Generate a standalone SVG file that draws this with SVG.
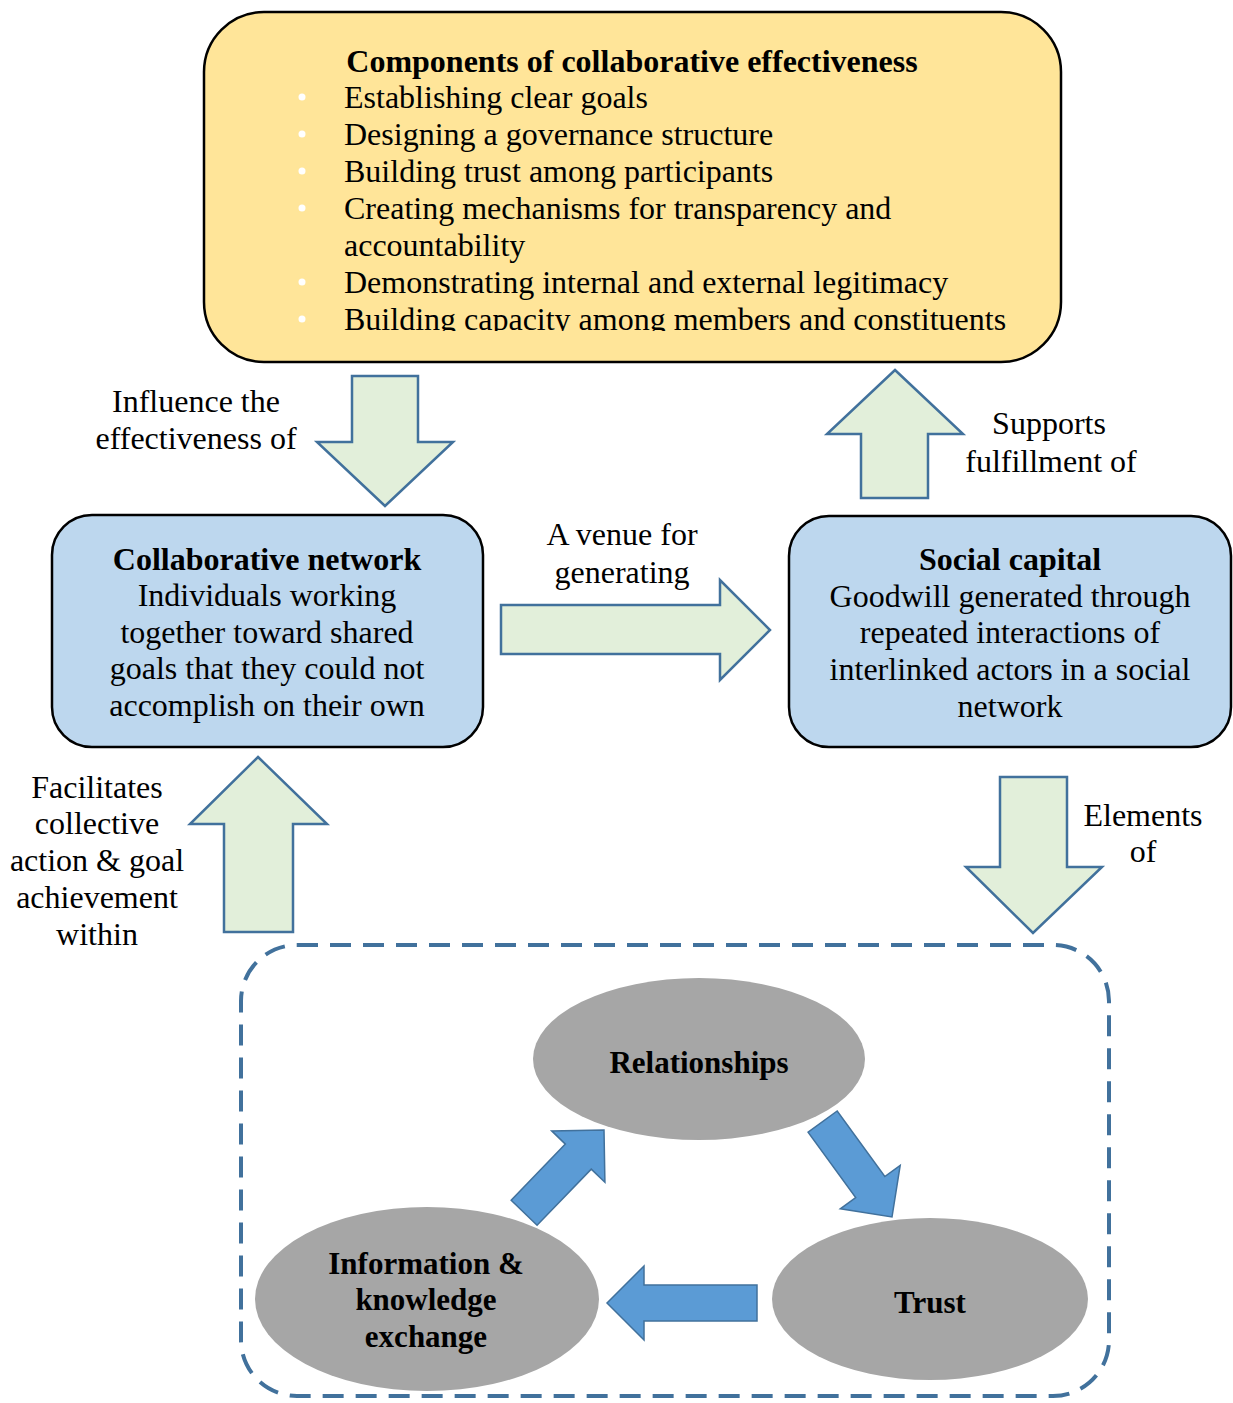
<svg xmlns="http://www.w3.org/2000/svg" width="1233" height="1403" viewBox="0 0 1233 1403">
  <style>
    .t { font-family: "Liberation Serif", "Times New Roman", serif; font-size: 32px; fill: #000; }
    .c { text-anchor: middle; }
    .b { font-weight: bold; }
    .lbl { font-size: 31px; }
    .box { stroke: #000; stroke-width: 2.5; }
    .block { fill: #E2EFDA; stroke: #41719C; stroke-width: 2.5; stroke-linejoin: miter; }
    .cyc { fill: #5B9BD5; stroke: #41719C; stroke-width: 1.5; }
    .ell { fill: #A6A6A6; }
  </style>
  <defs>
    <clipPath id="topClip">
      <rect x="200" y="10" width="870" height="321"/>
    </clipPath>
  </defs>

  <rect width="1233" height="1403" fill="#fff"/>

  <!-- Components box -->
  <g id="components">
    <rect class="box" x="204" y="12" width="857" height="350" rx="60" fill="#FFE599"/>
    <text class="t b c" x="632" y="72">Components of collaborative effectiveness</text>
    <g fill="#fff">
      <circle cx="302" cy="97" r="3.5"/>
      <circle cx="302" cy="134" r="3.5"/>
      <circle cx="302" cy="171" r="3.5"/>
      <circle cx="302" cy="208" r="3.5"/>
      <circle cx="302" cy="282" r="3.5"/>
      <circle cx="302" cy="319" r="3.5"/>
    </g>
    <g clip-path="url(#topClip)">
      <text class="t" x="344" y="108">Establishing clear goals</text>
      <text class="t" x="344" y="145">Designing a governance structure</text>
      <text class="t" x="344" y="182">Building trust among participants</text>
      <text class="t" x="344" y="219">Creating mechanisms for transparency and</text>
      <text class="t" x="344" y="256">accountability</text>
      <text class="t" x="344" y="293">Demonstrating internal and external legitimacy</text>
      <text class="t" x="344" y="330">Building capacity among members and constituents</text>
    </g>
  </g>

  <!-- Collaborative network -->
  <g id="collab-network">
    <rect class="box" x="52" y="515" width="431" height="232" rx="40" fill="#BDD7EE"/>
    <text class="t b c" x="267" y="570">Collaborative network</text>
    <text class="t c" x="267" y="606">Individuals working</text>
    <text class="t c" x="267" y="643">together toward shared</text>
    <text class="t c" x="267" y="679">goals that they could not</text>
    <text class="t c" x="267" y="716">accomplish on their own</text>
  </g>

  <!-- Social capital -->
  <g id="social-capital">
    <rect class="box" x="789" y="516" width="442" height="231" rx="40" fill="#BDD7EE"/>
    <text class="t b c" x="1010" y="570">Social capital</text>
    <text class="t c" x="1010" y="607">Goodwill generated through</text>
    <text class="t c" x="1010" y="643">repeated interactions of</text>
    <text class="t c" x="1010" y="680">interlinked actors in a social</text>
    <text class="t c" x="1010" y="717">network</text>
  </g>

  <!-- Elements container -->
  <g id="elements">
    <rect x="241" y="945" width="868" height="451" rx="56" fill="none" stroke="#41719C" stroke-width="4" stroke-dasharray="21 12"/>
  </g>

  <g id="relationships">
    <ellipse class="ell" cx="699" cy="1059" rx="166" ry="81"/>
    <text class="t b c lbl" x="699" y="1073">Relationships</text>
  </g>
  <g id="trust">
    <ellipse class="ell" cx="930" cy="1299" rx="158" ry="81"/>
    <text class="t b c lbl" x="930" y="1313">Trust</text>
  </g>
  <g id="info-exchange">
    <ellipse class="ell" cx="427" cy="1299" rx="172" ry="92"/>
    <text class="t b c lbl" x="426" y="1274">Information &amp;</text>
    <text class="t b c lbl" x="426" y="1310">knowledge</text>
    <text class="t b c lbl" x="426" y="1347">exchange</text>
  </g>

  <!-- Connectors -->
  <g id="connectors">
    <!-- influence: components -> network (down) -->
    <polygon class="block" points="352,376 418,376 418,442 453,442 385,506 317,442 352,442"/>
    <!-- venue: network -> social capital (right) -->
    <polygon class="block" points="501,605 720,605 720,580 770,630 720,680 720,654 501,654"/>
    <!-- supports: social capital -> components (up) -->
    <polygon class="block" points="895,370 963,434 928,434 928,498 861,498 861,434 827,434"/>
    <!-- facilitates: elements -> network (up) -->
    <polygon class="block" points="258,757 327,824 293,824 293,932 224,932 224,824 190,824"/>
    <!-- elements of: social capital -> elements (down) -->
    <polygon class="block" points="1000,777 1067,777 1067,867 1102,867 1033,933 966,867 1000,867"/>

    <!-- cycle arrows (drawn pointing +x with the tip at the origin) -->
    <polygon class="cyc" transform="translate(892 1217) rotate(54)" points="0,0 -37,-37 -37,-18 -118,-18 -118,18 -37,18 -37,37"/>
    <polygon class="cyc" transform="translate(607 1303) rotate(180)" points="0,0 -37,-37 -37,-18 -150,-18 -150,18 -37,18 -37,37"/>
    <polygon class="cyc" transform="translate(604 1130) rotate(-46)" points="0,0 -37,-37 -37,-18 -115,-18 -115,18 -37,18 -37,37"/>

    <!-- labels -->
    <text class="t c" x="196" y="412">Influence the</text>
    <text class="t c" x="196" y="449">effectiveness of</text>
    <text class="t c" x="622" y="545">A venue for</text>
    <text class="t c" x="622" y="583">generating</text>
    <text class="t c" x="1049" y="434">Supports</text>
    <text class="t c" x="1051" y="472">fulfillment of</text>
    <text class="t c" x="97" y="798">Facilitates</text>
    <text class="t c" x="97" y="834">collective</text>
    <text class="t c" x="97" y="871">action &amp; goal</text>
    <text class="t c" x="97" y="908">achievement</text>
    <text class="t c" x="97" y="945">within</text>
    <text class="t c" x="1143" y="826">Elements</text>
    <text class="t c" x="1143" y="862">of</text>
  </g>
</svg>
